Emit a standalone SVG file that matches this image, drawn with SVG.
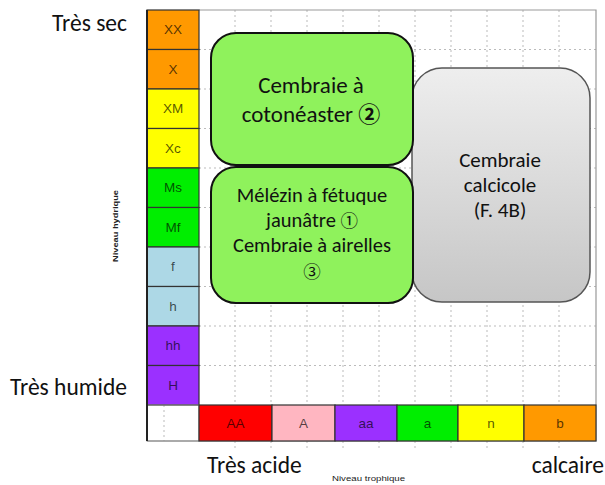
<svg xmlns="http://www.w3.org/2000/svg" width="605" height="485" viewBox="0 0 605 485">
<style>
.cell{stroke:#333;stroke-width:1.2}
.lbl{font-family:"Liberation Sans",Arial,sans-serif;font-size:13.5px;fill:#000;fill-opacity:0.68;text-anchor:middle}
.grid{stroke:#bbb;stroke-width:1;stroke-dasharray:2 3;fill:none}
.big{font-family:"Carlito","Liberation Sans",Arial,sans-serif;font-size:23.5px;fill:#111}
.box{font-family:"Carlito","Liberation Sans","Noto Sans CJK JP",sans-serif;fill:#111;text-anchor:middle}
.num{font-family:"Noto Sans CJK JP",sans-serif}
.small{font-family:"Liberation Sans",Arial,sans-serif;font-size:8px;fill:#222}
</style>
<defs>
<linearGradient id="gray" x1="0" y1="0" x2="0" y2="1">
<stop offset="0" stop-color="#eeeeee"/>
<stop offset="1" stop-color="#c6c6c6"/>
</linearGradient>
</defs>
<rect width="605" height="485" fill="#fff"/>
<g id="grid">
<path class="grid" d="M199 49.5H596M199 89H596M199 128.5H596M199 168H596M199 207.5H596M199 247H596M199 286.5H596M199 326H596M199 365.5H596"/>
<path class="grid" d="M235 10V405M271 10V405M307 10V405M343 10V405M379 10V405M415 10V405M451 10V405M487 10V405M523 10V405M559 10V405M164 405V441"/>
<path class="grid" d="M235 441V448M271 441V448M307 441V448M343 441V448M379 441V448M415 441V448M451 441V448M487 441V448M523 441V448M559 441V448" stroke="#ccc"/>
<path d="M199 10H596V441H147" fill="none" stroke="#999" stroke-width="1.2"/>
</g>
<g id="yaxis">
<rect class="cell" x="147" y="10" width="52" height="39.5" fill="#ff9900"/>
<rect class="cell" x="147" y="49.5" width="52" height="39.5" fill="#ff9900"/>
<rect class="cell" x="147" y="89" width="52" height="39.5" fill="#ffff00"/>
<rect class="cell" x="147" y="128.5" width="52" height="39.5" fill="#ffff00"/>
<rect class="cell" x="147" y="168" width="52" height="39.5" fill="#00ee00"/>
<rect class="cell" x="147" y="207.5" width="52" height="39.5" fill="#00ee00"/>
<rect class="cell" x="147" y="247" width="52" height="39.5" fill="#add8e6"/>
<rect class="cell" x="147" y="286.5" width="52" height="39.5" fill="#add8e6"/>
<rect class="cell" x="147" y="326" width="52" height="39.5" fill="#9b30ff"/>
<rect class="cell" x="147" y="365.5" width="52" height="39.5" fill="#9b30ff"/>
<rect x="147" y="405" width="52" height="36" fill="none" stroke="#888" stroke-width="1"/>
<line x1="147" y1="10" x2="147" y2="441" stroke="#222" stroke-width="2"/>
<text class="lbl" x="173" y="34">XX</text>
<text class="lbl" x="173" y="73.5">X</text>
<text class="lbl" x="173" y="113">XM</text>
<text class="lbl" x="173" y="152.5">Xc</text>
<text class="lbl" x="173" y="192">Ms</text>
<text class="lbl" x="173" y="231.5">Mf</text>
<text class="lbl" x="173" y="271">f</text>
<text class="lbl" x="173" y="310.5">h</text>
<text class="lbl" x="173" y="350">hh</text>
<text class="lbl" x="173" y="389.5">H</text>
</g>
<g id="xaxis">
<rect class="cell" x="199" y="405" width="73" height="36" fill="#ff0000"/>
<rect class="cell" x="272" y="405" width="63" height="36" fill="#ffb6c1"/>
<rect class="cell" x="335" y="405" width="62" height="36" fill="#9b30ff"/>
<rect class="cell" x="397" y="405" width="61" height="36" fill="#00ee00"/>
<rect class="cell" x="458" y="405" width="66" height="36" fill="#ffff00"/>
<rect class="cell" x="524" y="405" width="72" height="36" fill="#ff9900"/>
<text class="lbl" x="235.5" y="428">AA</text>
<text class="lbl" x="303.5" y="428">A</text>
<text class="lbl" x="366" y="428">aa</text>
<text class="lbl" x="427.5" y="428">a</text>
<text class="lbl" x="491" y="428">n</text>
<text class="lbl" x="560" y="428">b</text>
</g>
<g id="labels">
<text class="big" x="127" y="31" text-anchor="end">Très sec</text>
<text class="big" x="127" y="395" text-anchor="end">Très humide</text>
<text class="big" x="207" y="473">Très acide</text>
<text class="big" x="604" y="473" text-anchor="end">calcaire</text>
<text class="small" x="332" y="481" textLength="73" lengthAdjust="spacingAndGlyphs">Niveau trophique</text>
<text class="small" x="0" y="0" transform="translate(118 262) rotate(-90)" font-weight="bold" textLength="72" lengthAdjust="spacingAndGlyphs">Niveau hydrique</text>
</g>
<g id="calcicole">
<rect x="412" y="68" width="178" height="234" rx="30" fill="url(#gray)" stroke="#555" stroke-width="1.5"/>
<text class="box" font-size="21" fill="#333" x="500" y="167">Cembraie</text>
<text class="box" font-size="21" fill="#333" x="500" y="192">calcicole</text>
<text class="box" font-size="21" fill="#333" x="500" y="217">(F. 4B)</text>
</g>
<g id="cotoneaster">
<rect x="211" y="33" width="202" height="132" rx="25" fill="#8ff25c" stroke="#111" stroke-width="2"/>
<text class="box" font-size="23" x="311" y="93">Cembraie à</text>
<text class="box" font-size="23" x="311" y="122">cotonéaster <tspan class="num" font-size="22" font-weight="bold">②</tspan></text>
</g>
<g id="melezin">
<rect x="211" y="167" width="202" height="136" rx="25" fill="#8ff25c" stroke="#111" stroke-width="2"/>
<text class="box" font-size="20.5" x="312" y="202">Mélézin à fétuque</text>
<text class="box" font-size="20.5" x="312" y="227">jaunâtre <tspan class="num" font-size="17.5">①</tspan></text>
<text class="box" font-size="20.5" x="312" y="252">Cembraie à airelles</text>
<text class="box" font-size="20.5" x="312" y="278"><tspan class="num" font-size="17.5">③</tspan></text>
</g>
</svg>
